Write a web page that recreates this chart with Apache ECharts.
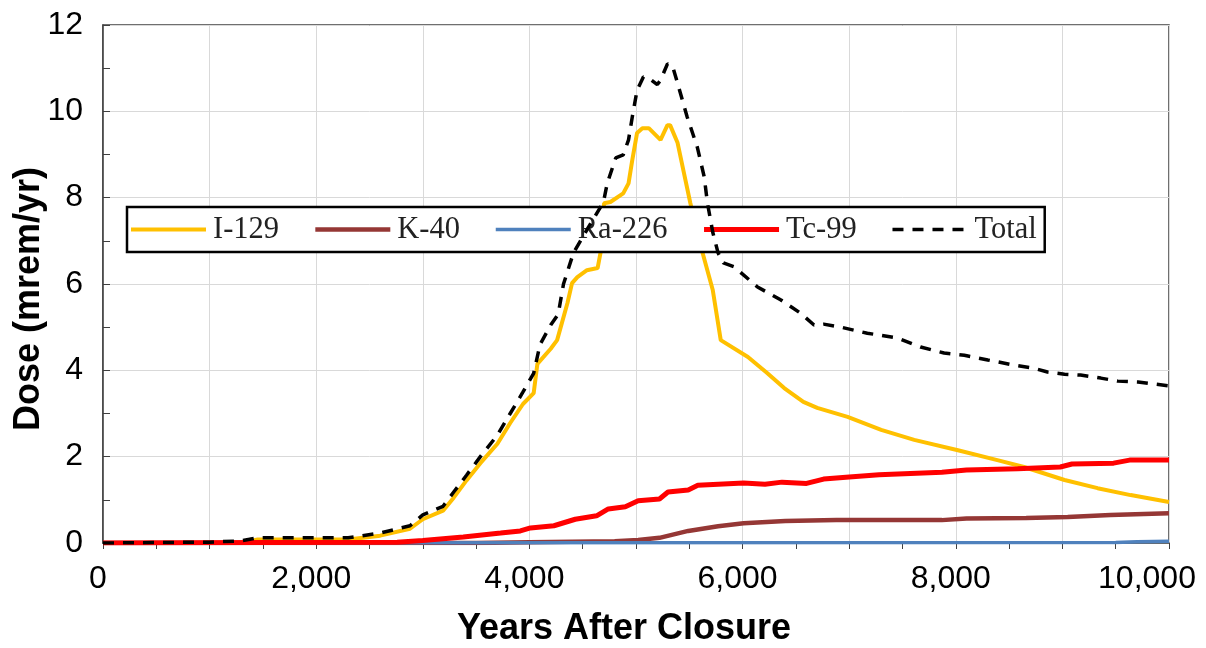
<!DOCTYPE html>
<html>
<head>
<meta charset="utf-8">
<script src="https://cdn.jsdelivr.net/npm/echarts@6/dist/echarts.min.js"></script>
<style>
html,body{margin:0;padding:0;background:#fff;}
#chart{width:1206px;height:648px;}
</style>
</head>
<body>
<div id="chart"></div>
<script>
// ---- Data (years after closure, dose in mrem/yr) ----
var seriesNames = ['I-129', 'K-40', 'Ra-226', 'Tc-99', 'Total'];

var i129Years = [0, 1300, 1450, 2300, 2600, 2880, 3000, 3190, 3290, 3410, 3540, 3700, 3820, 3940, 4040, 4075, 4200, 4260, 4357, 4400, 4450, 4540, 4640, 4667, 4700, 4760, 4880, 4930, 4965, 5010, 5060, 5120, 5230, 5295, 5320, 5390, 5450, 5510, 5625, 5720, 5795, 6050, 6230, 6390, 6570, 6700, 6985, 7300, 7610, 8020, 8390, 8640, 9020, 9330, 9640, 10000];
var i129Dose  = [0, 0.0, 0.08, 0.08, 0.17, 0.33, 0.55, 0.75, 1.05, 1.45, 1.85, 2.3, 2.78, 3.22, 3.47, 4.15, 4.5, 4.7, 5.56, 6.02, 6.16, 6.32, 6.37, 6.72, 7.87, 7.9, 8.1, 8.33, 8.87, 9.5, 9.61, 9.61, 9.34, 9.68, 9.68, 9.27, 8.57, 7.87, 6.72, 5.86, 4.7, 4.31, 3.94, 3.59, 3.27, 3.13, 2.92, 2.62, 2.39, 2.15, 1.92, 1.76, 1.46, 1.27, 1.11, 0.95];

var k40Years = [0, 3500, 4000, 4800, 5020, 5220, 5490, 5770, 6010, 6400, 6880, 7870, 8100, 8660, 9050, 9450, 10000];
var k40Dose  = [0, 0.0, 0.02, 0.04, 0.07, 0.12, 0.28, 0.39, 0.46, 0.51, 0.53, 0.53, 0.57, 0.58, 0.60, 0.65, 0.69];

var ra226Years = [0, 5000, 9500, 9700, 10000];
var ra226Dose  = [0, 0.005, 0.01, 0.03, 0.04];

var tc99Years = [0, 1500, 2760, 3000, 3380, 3730, 3915, 4010, 4230, 4430, 4630, 4740, 4900, 5020, 5220, 5300, 5490, 5580, 6010, 6210, 6370, 6600, 6760, 7000, 7280, 7870, 8100, 8580, 8980, 9090, 9480, 9630, 10000];
var tc99Dose  = [0, 0.01, 0.02, 0.06, 0.14, 0.23, 0.28, 0.35, 0.40, 0.55, 0.63, 0.79, 0.84, 0.98, 1.02, 1.18, 1.23, 1.34, 1.39, 1.36, 1.41, 1.38, 1.48, 1.53, 1.58, 1.64, 1.69, 1.72, 1.76, 1.83, 1.85, 1.92, 1.92];

var totalYears = [0, 1000, 1300, 1450, 2300, 2600, 2880, 3000, 3190, 3290, 3410, 3540, 3700, 3820, 3940, 4040, 4100, 4200, 4270, 4320, 4413, 4550, 4667, 4695, 4730, 4810, 4880, 4930, 4965, 5010, 5070, 5130, 5200, 5230, 5295, 5340, 5390, 5480, 5575, 5640, 5670, 5720, 5770, 5820, 5920, 6140, 6360, 6540, 6670, 6760, 6920, 7170, 7450, 7670, 7890, 8080, 8300, 8550, 8730, 8860, 9020, 9170, 9360, 9520, 9710, 10000];
var totalDose  = [0, 0.02, 0.05, 0.12, 0.12, 0.23, 0.40, 0.65, 0.85, 1.18, 1.57, 2.0, 2.5, 3.0, 3.5, 3.93, 4.6, 5.05, 5.3, 6.0, 6.72, 7.3, 7.78, 7.9, 8.33, 8.92, 8.99, 9.34, 9.87, 10.49, 10.8, 10.75, 10.62, 10.72, 11.1, 11.07, 10.65, 9.87, 9.17, 8.48, 7.88, 7.2, 6.72, 6.49, 6.4, 5.93, 5.63, 5.33, 5.05, 5.07, 5.0, 4.86, 4.75, 4.54, 4.4, 4.35, 4.24, 4.12, 4.05, 3.96, 3.91, 3.89, 3.82, 3.75, 3.73, 3.64];

var xTickLabels = ['0', '2,000', '4,000', '6,000', '8,000', '10,000'];
var yTickLabels = ['0', '2', '4', '6', '8', '10', '12'];

function zip(xs, ys) { return xs.map(function (x, i) { return [x, ys[i]]; }); }

var chart = echarts.init(document.getElementById('chart'), null, {renderer: 'canvas'});

var labelFont = {fontFamily: 'Liberation Sans', fontSize: 32, color: '#000'};

var option = {
  animation: false,
  backgroundColor: '#ffffff',
  grid: {
    left: 103, right: 37, top: 25, bottom: 105,
    containLabel: false, outerBoundsMode: 'none',
    show: true, borderColor: '#404040', borderWidth: 1.5, backgroundColor: 'transparent'
  },
  legend: {
    data: seriesNames,
    left: 127, top: 207, width: 918,
    orient: 'horizontal',
    backgroundColor: '#ffffff',
    borderColor: '#000000', borderWidth: 2.5,
    padding: [7, 8, 7, 2],
    itemWidth: 75, itemHeight: 14, itemGap: 34,
    itemStyle: {opacity: 0},
    lineStyle: {width: 'inherit', opacity: 1},
    textStyle: {fontFamily: 'Liberation Serif', fontSize: 30.5, color: '#222222', padding: [0, 0, 0, 2]}
  },
  xAxis: {
    type: 'value', min: 0, max: 10000, interval: 1000,
    name: 'Years After Closure', nameLocation: 'middle', nameGap: 68,
    nameTextStyle: {fontFamily: 'Liberation Sans', fontWeight: 'bold', fontSize: 36, color: '#000', padding: [0, 24, 0, 0]},
    axisLine: {show: true, lineStyle: {color: '#404040', width: 1.5}},
    axisTick: {show: true, inside: false, length: 6, lineStyle: {color: '#404040'}},
    minorTick: {show: true, splitNumber: 2, length: 6, lineStyle: {color: '#404040'}},
    splitLine: {show: true, lineStyle: {color: '#d9d9d9', width: 1}},
    axisLabel: {
      margin: 20,
      fontFamily: 'Liberation Sans', fontSize: 32, color: '#000',
      formatter: function (v) {
        if (v % 2000 !== 0) return '';
        var s = xTickLabels[v / 2000];
        return v === 10000 ? '{l|' + s + '}' : '{n|' + s + '}';
      },
      rich: {
        n: Object.assign({padding: [0, 10, 0, 0]}, labelFont),
        l: Object.assign({padding: [0, 44, 0, 0]}, labelFont)
      }
    }
  },
  yAxis: {
    type: 'value', min: 0, max: 12, interval: 2,
    name: 'Dose (mrem/yr)', nameLocation: 'middle', nameGap: 56, nameRotate: 90,
    nameMoveOverlap: false,
    nameTextStyle: {fontFamily: 'Liberation Sans', fontWeight: 'bold', fontSize: 36, color: '#000', padding: [0, 30, 0, 0]},
    axisLine: {show: true, lineStyle: {color: '#404040', width: 1.5}},
    axisTick: {show: true, inside: true, length: 7, lineStyle: {color: '#404040'}},
    minorTick: {show: true, splitNumber: 2, length: 7, lineStyle: {color: '#404040'}},
    splitLine: {show: true, lineStyle: {color: '#d9d9d9', width: 1}},
    axisLabel: {
      fontFamily: 'Liberation Sans', fontSize: 32, color: '#000', margin: 20,
      formatter: function (v) { return yTickLabels[v / 2]; }
    }
  },
  series: [
    {name: 'I-129', type: 'line', data: zip(i129Years, i129Dose), symbol: 'none', z: 3,
     lineStyle: {color: '#FFC000', width: 4}, itemStyle: {color: '#FFC000'}},
    {name: 'K-40', type: 'line', data: zip(k40Years, k40Dose), symbol: 'none', z: 3,
     lineStyle: {color: '#953735', width: 4.5}, itemStyle: {color: '#953735'}},
    {name: 'Ra-226', type: 'line', data: zip(ra226Years, ra226Dose), symbol: 'none', z: 3,
     lineStyle: {color: '#4F81BD', width: 3.5}, itemStyle: {color: '#4F81BD'}},
    {name: 'Tc-99', type: 'line', data: zip(tc99Years, tc99Dose), symbol: 'none', z: 3,
     lineStyle: {color: '#FF0000', width: 5}, itemStyle: {color: '#FF0000'}},
    {name: 'Total', type: 'line', data: zip(totalYears, totalDose), symbol: 'none', z: 4,
     lineStyle: {color: '#000000', width: 3.5, type: [11, 9]}, itemStyle: {color: '#000000'}}
  ]
};
chart.setOption(option);
</script>
</body>
</html>
